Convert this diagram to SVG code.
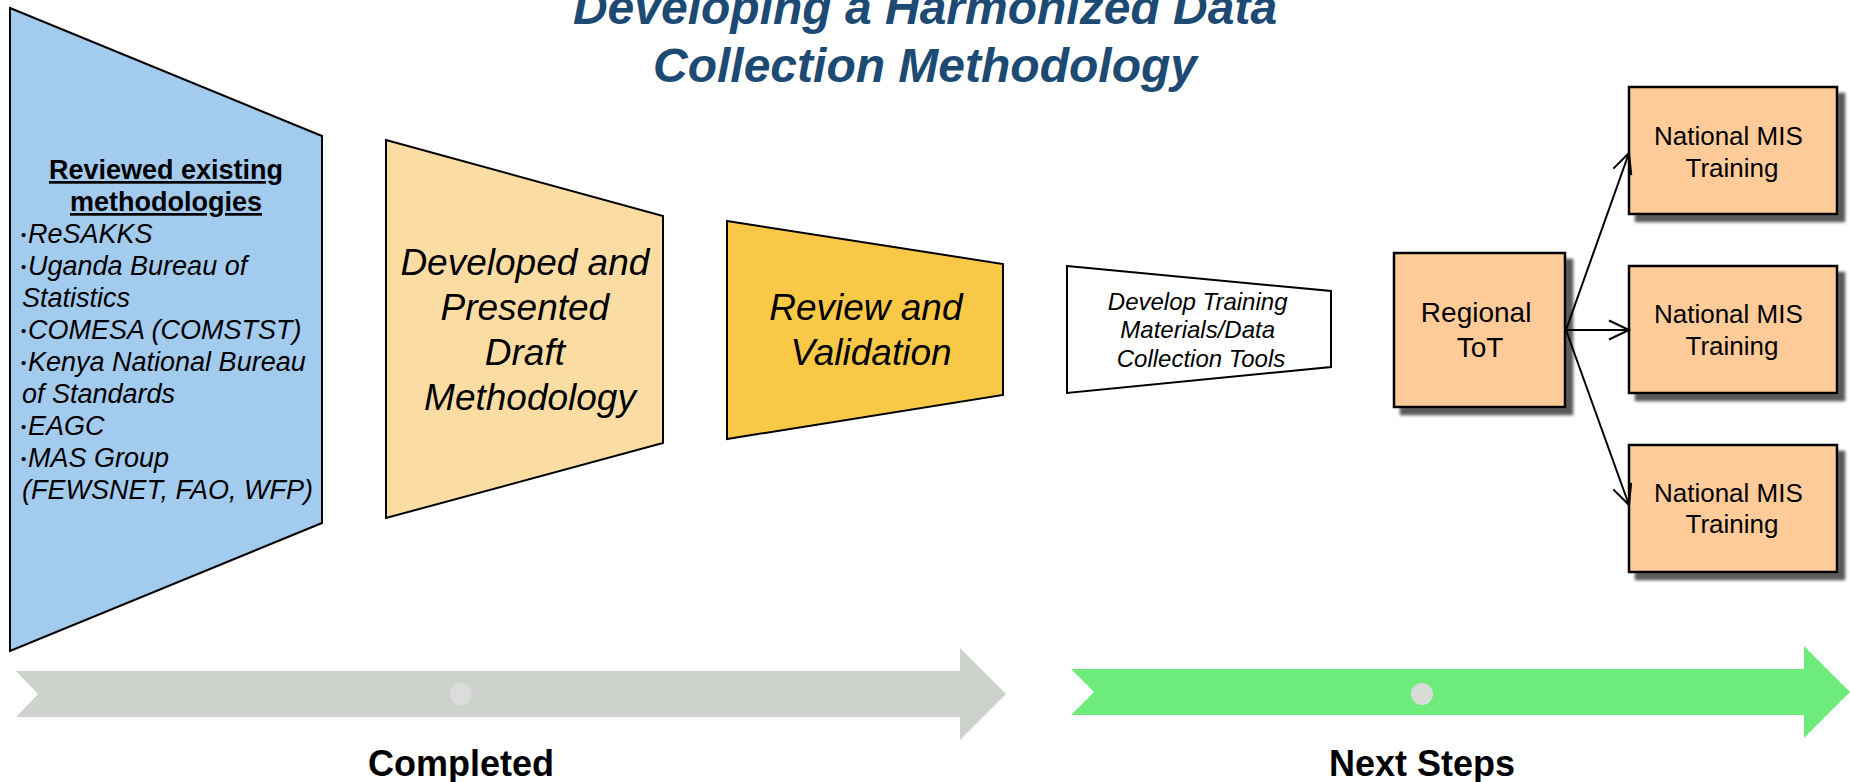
<svg xmlns="http://www.w3.org/2000/svg" width="1850" height="782" viewBox="0 0 1850 782">
<defs>
<style>
.shape{stroke:#000;stroke-width:2;stroke-linejoin:miter}
.t{font-family:"Liberation Sans",Arial,sans-serif;fill:#000}
.it{font-style:italic}
.bul{font-family:"Liberation Sans",Arial,sans-serif;font-size:15px;fill:#000}
.title{font-family:"Liberation Sans",Arial,sans-serif;font-weight:bold;font-style:italic;font-size:48px;fill:#1C4A73;text-anchor:middle}
.box{fill:#FFCC99;stroke:#000;stroke-width:2.5}
.conn{stroke:#000;stroke-width:2;fill:none}
</style>
<filter id="sh" x="-10%" y="-10%" width="130%" height="130%">
<feGaussianBlur in="SourceAlpha" stdDeviation="1.5" result="b"/>
<feOffset in="b" dx="7" dy="7" result="o"/>
<feFlood flood-color="#5a5a5a"/>
<feComposite in2="o" operator="in" result="s"/>
<feMerge><feMergeNode in="s"/><feMergeNode in="SourceGraphic"/></feMerge>
</filter>
<marker id="ah" markerUnits="userSpaceOnUse" markerWidth="24" markerHeight="24" viewBox="0 0 24 24" refX="22" refY="12" orient="auto">
<path d="M2,2.5 L22,12 L2,21.5" fill="none" stroke="#000" stroke-width="2"/>
</marker>
</defs>
<rect width="1850" height="782" fill="#fff"/>

<g id="title">
<text class="title" x="925" y="24">Developing a Harmonized Data</text>
<text class="title" x="925" y="82">Collection Methodology</text>
</g>

<g id="node-reviewed">
<polygon class="shape" points="10,8 322,136 322,523 10,651" fill="#A3CBEE"/>
<text class="t" font-size="27" font-weight="bold" text-anchor="middle" text-decoration="underline" x="166" y="179">Reviewed existing</text>
<text class="t" font-size="27" font-weight="bold" text-anchor="middle" text-decoration="underline" x="166" y="211">methodologies</text>
<text class="bul" x="21" y="240">•</text>
<text class="bul" x="21" y="272">•</text>
<text class="bul" x="21" y="336">•</text>
<text class="bul" x="21" y="368">•</text>
<text class="bul" x="21" y="432">•</text>
<text class="bul" x="21" y="464">•</text>
<text class="t it" font-size="27">
<tspan x="28" y="243">ReSAKKS</tspan>
<tspan x="28" y="275">Uganda Bureau of</tspan>
<tspan x="22" y="307">Statistics</tspan>
<tspan x="28" y="339">COMESA (COMSTST)</tspan>
<tspan x="28" y="371">Kenya National Bureau</tspan>
<tspan x="22" y="403">of Standards</tspan>
<tspan x="28" y="435">EAGC</tspan>
<tspan x="28" y="467">MAS Group</tspan>
<tspan x="22" y="499">(FEWSNET, FAO, WFP)</tspan>
</text>
</g>

<g id="node-draft">
<polygon class="shape" points="386,140 663,216 663,443 386,518" fill="#FBDDA4"/>
<text class="t it" font-size="37" text-anchor="middle">
<tspan x="530" y="275">Developed and</tspan>
<tspan x="530" y="320">Presented</tspan>
<tspan x="530" y="365">Draft</tspan>
<tspan x="530" y="410">Methodology</tspan>
</text>
</g>

<g id="node-review">
<polygon class="shape" points="727,221 1003,264 1003,395 727,439" fill="#F9C846"/>
<text class="t it" font-size="37" text-anchor="middle">
<tspan x="871" y="320">Review and</tspan>
<tspan x="871" y="365">Validation</tspan>
</text>
</g>

<g id="node-materials">
<polygon class="shape" points="1067,266 1331,291 1331,367 1067,393" fill="#FFFFFF"/>
<text class="t it" font-size="24" text-anchor="middle">
<tspan x="1201" y="310">Develop Training</tspan>
<tspan x="1201" y="338">Materials/Data</tspan>
<tspan x="1201" y="367">Collection Tools</tspan>
</text>
</g>

<g id="node-regional">
<rect class="box" x="1394" y="253" width="171" height="154" filter="url(#sh)"/>
<text class="t" font-size="28" text-anchor="middle">
<tspan x="1480" y="322">Regional</tspan>
<tspan x="1480" y="357">ToT</tspan>
</text>
</g>

<g id="node-national-1">
<rect class="box" x="1629" y="87" width="208" height="127" filter="url(#sh)"/>
<text class="t" font-size="26" text-anchor="middle">
<tspan x="1732" y="145">National MIS</tspan>
<tspan x="1732" y="177">Training</tspan>
</text>
</g>

<g id="node-national-2">
<rect class="box" x="1629" y="266" width="208" height="127" filter="url(#sh)"/>
<text class="t" font-size="26" text-anchor="middle">
<tspan x="1732" y="323">National MIS</tspan>
<tspan x="1732" y="355">Training</tspan>
</text>
</g>

<g id="node-national-3">
<rect class="box" x="1629" y="445" width="208" height="127" filter="url(#sh)"/>
<text class="t" font-size="26" text-anchor="middle">
<tspan x="1732" y="502">National MIS</tspan>
<tspan x="1732" y="533">Training</tspan>
</text>
</g>

<g id="connectors">
<line class="conn" x1="1566" y1="330" x2="1629" y2="153" marker-end="url(#ah)"/>
<line class="conn" x1="1566" y1="330" x2="1629" y2="330" marker-end="url(#ah)"/>
<line class="conn" x1="1566" y1="330" x2="1629" y2="505" marker-end="url(#ah)"/>
</g>

<g id="timeline-completed">
<polygon points="16,671 960,671 960,648 1006,694 960,740 960,717 16,717 38,694" fill="#CDD2CD"/>
<circle cx="461" cy="694" r="11" fill="#DCDCDC"/>
<text class="t" font-size="36" font-weight="bold" text-anchor="middle" x="461" y="776">Completed</text>
</g>

<g id="timeline-next">
<polygon points="1071,669 1804,669 1804,646 1850,692 1804,738 1804,715 1071,715 1094,692" fill="#6EEC7B"/>
<circle cx="1422" cy="694" r="11" fill="#D8DCD8"/>
<text class="t" font-size="36" font-weight="bold" text-anchor="middle" x="1422" y="776">Next Steps</text>
</g>
</svg>
